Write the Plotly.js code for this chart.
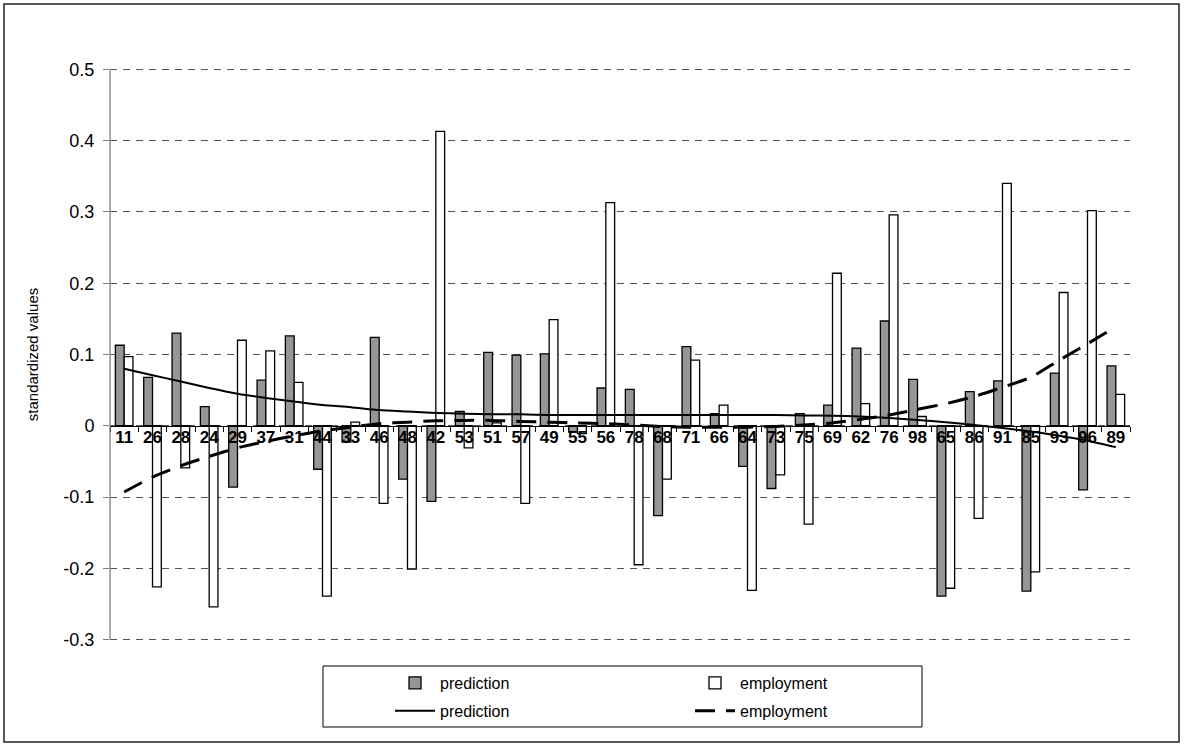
<!DOCTYPE html>
<html>
<head>
<meta charset="utf-8">
<script src="https://cdn.plot.ly/plotly-3.0.1.min.js"></script>
<style>
html,body{margin:0;padding:0;background:#fff;}
#chart{width:1184px;height:745px;}
</style>
</head>
<body>
<div id="chart"></div>
<script>
const categories = ["11","26","28","24","29","37","31","44","33","46","48","42","53","51","57","49","55","56","78","68","71","66","64","73","75","69","62","76","98","65","86","91","85","93","96","89"];
const predictionValues = [0.113,0.068,0.130,0.027,-0.086,0.064,0.126,-0.061,-0.023,0.124,-0.075,-0.106,0.020,0.103,0.099,0.101,-0.009,0.053,0.051,-0.126,0.111,0.017,-0.057,-0.088,0.017,0.029,0.109,0.147,0.065,-0.239,0.048,0.063,-0.232,0.074,-0.090,0.084];
const employmentValues = [0.097,-0.226,-0.059,-0.254,0.120,0.105,0.061,-0.239,0.005,-0.109,-0.201,0.413,-0.031,0.004,-0.109,0.149,-0.011,0.313,-0.195,-0.075,0.092,0.029,-0.231,-0.069,-0.138,0.214,0.031,0.296,0.013,-0.228,-0.130,0.340,-0.205,0.187,0.302,0.044];
const predictionTrend = [0.080,0.071,0.062,0.053,0.045,0.039,0.034,0.029,0.026,0.022,0.020,0.018,0.017,0.016,0.016,0.015,0.015,0.015,0.015,0.015,0.015,0.015,0.015,0.015,0.0145,0.014,0.013,0.011,0.008,0.005,0.001,-0.003,-0.008,-0.014,-0.021,-0.030];
const employmentTrend = [-0.093,-0.072,-0.056,-0.043,-0.031,-0.022,-0.014,-0.007,-0.002,0.003,0.005,0.007,0.0075,0.0075,0.006,0.005,0.004,0.003,0.001,-0.001,-0.002,-0.002,-0.002,-0.001,0.001,0.004,0.009,0.015,0.023,0.031,0.041,0.054,0.068,0.092,0.115,0.139];
const yTickValues = [-0.3,-0.2,-0.1,0,0.1,0.2,0.3,0.4,0.5];
const yTickLabels = ["-0.3","-0.2","-0.1","0","0.1","0.2","0.3","0.4","0.5"];

const FONT = "Liberation Sans, Arial, sans-serif";

const traces = [
  {type:"bar", name:"prediction", x:categories, y:predictionValues,
   marker:{color:"#969696", line:{color:"#000", width:1.3}}, legend:"legend", legendgroup:"a"},
  {type:"bar", name:"employment", x:categories, y:employmentValues,
   marker:{color:"#ffffff", line:{color:"#000", width:1.3}}, legend:"legend2", legendgroup:"c"},
  {type:"scatter", mode:"lines", name:"prediction", x:categories, y:predictionTrend,
   line:{color:"#000", width:2, shape:"spline", smoothing:0.6}, legend:"legend", legendgroup:"b"},
  {type:"scatter", mode:"lines", name:"employment", x:categories, y:employmentTrend,
   line:{color:"#000", width:3, dash:"20px,11px", shape:"spline", smoothing:0.6}, legend:"legend2", legendgroup:"d"}
];

const L = 110, R = 1130, T = 68, B = 641;
const W = R - L, H = B - T;
const px = v => (v - L) / W;
const py = v => (B - v) / H;
const yRange = [-0.302, 0.502];

const layout = {
  width:1184, height:745,
  margin:{l:L, r:1184-R, t:T, b:745-B},
  paper_bgcolor:"#fff", plot_bgcolor:"#fff",
  font:{family:FONT, color:"#000", size:16},
  barmode:"group", bargap:0.38, bargroupgap:0,
  showlegend:true,
  xaxis:{type:"category", anchor:"free", position:(0 - yRange[0])/(yRange[1]-yRange[0]),
    showline:true, linecolor:"#000", linewidth:1.3,
    ticks:"outside", tickson:"boundaries", ticklen:5, tickcolor:"#000", tickwidth:1,
    tickfont:{family:FONT, size:17, weight:"bold", color:"#000"},
    tickangle:0, ticklabelstandoff:-4,
    showgrid:false, zeroline:false, fixedrange:true},
  yaxis:{range:yRange, tickvals:yTickValues, ticktext:yTickLabels,
    showline:false,
    ticks:"outside", ticklen:6, tickcolor:"#808080",
    tickfont:{family:FONT, size:18, color:"#000"},
    ticklabelstandoff:5,
    showgrid:true, gridcolor:"#555", gridwidth:1, griddash:"7px,6px",
    zeroline:false,
    title:{text:"standardized values", font:{family:FONT, size:15, color:"#000"}, standoff:21},
    automargin:false, fixedrange:true},
  legend:{x:px(390), y:py(666), xanchor:"left", yanchor:"top", orientation:"v",
    bgcolor:"rgba(0,0,0,0)", borderwidth:0, tracegroupgap:4,
    font:{family:FONT, size:16, color:"#000"}, itemwidth:40},
  legend2:{x:px(690), y:py(666), xanchor:"left", yanchor:"top", orientation:"v",
    bgcolor:"rgba(0,0,0,0)", borderwidth:0, tracegroupgap:4,
    font:{family:FONT, size:16, color:"#000"}, itemwidth:40},
  shapes:[
    {type:"line", xref:"x domain", yref:"y", x0:0, x1:0, y0:-0.3, y1:0.5,
     line:{color:"#808080", width:1.3}},
    {type:"rect", xref:"paper", yref:"paper", x0:px(4), x1:px(1179), y0:py(742), y1:py(4),
     line:{color:"#222", width:1.5}, fillcolor:"rgba(0,0,0,0)", layer:"below"},
    {type:"rect", xref:"paper", yref:"paper", x0:px(323), x1:px(922), y0:py(727), y1:py(666),
     line:{color:"#000", width:1}, fillcolor:"rgba(0,0,0,0)", layer:"below"}
  ]
};

Plotly.newPlot("chart", traces, layout, {displayModeBar:false, staticPlot:true});
</script>
</body>
</html>
